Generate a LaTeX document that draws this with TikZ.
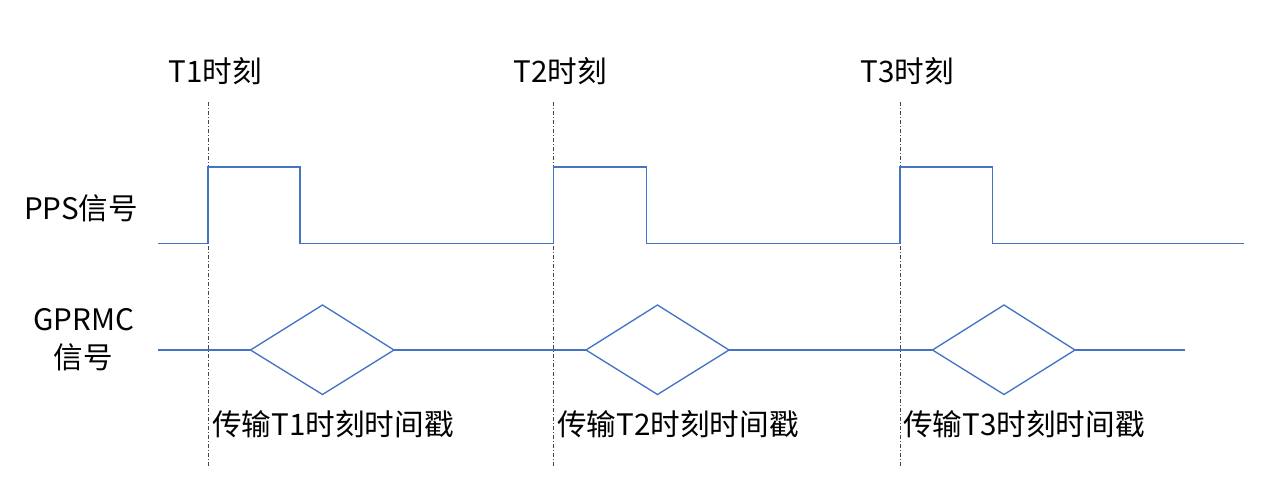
\documentclass[tikz,border=0pt]{standalone}
\usepackage{fontspec}
\setmainfont{Noto Sans CJK SC}
\begin{document}
\begin{tikzpicture}[x=0.75pt,y=-0.75pt,
  wave/.style={draw=waveblue,line width=1pt,line join=miter},
  marker/.style={draw=markgray,line width=0.75pt,dash pattern=on 3pt off 1.5pt on 0.75pt off 1.5pt},
  lbl/.style={inner sep=0pt,font=\fontsize{22.2pt}{27pt}\selectfont,text=black,align=center}]
\definecolor{waveblue}{RGB}{68,114,196}
\definecolor{markgray}{RGB}{70,70,70}
\useasboundingbox (0,0) rectangle (1280,503);
% time markers
\foreach \n/\x in {1/208,2/553.5,3/900}{
  \coordinate (mt\n) at (\x,102);
  \coordinate (mb\n) at (\x,468);
  \draw[marker] (mt\n) -- (mb\n);
  \node[lbl] (tl\n) at (\x+7,71) {T\n{}时刻};
}
% labels
\node[lbl] (pps) at (81,208) {PPS信号};
\node[lbl] (gprmc) at (84,320) {GPRMC};
\node[lbl] (gsig) at (83,357) {信号};
\node[lbl] (tx1) at (333,424) {传输T1时刻时间戳};
\node[lbl] (tx2) at (678,424) {传输T2时刻时间戳};
\node[lbl] (tx3) at (1024,424) {传输T3时刻时间戳};
% PPS waveform
\draw[wave] (158,243.5) -- (208,243.5) -- (208,167) -- (300,167) -- (300,243.5)
  -- (553.5,243.5) -- (553.5,167) -- (646.5,167) -- (646.5,243.5)
  -- (900,243.5) -- (900,167) -- (992.5,167) -- (992.5,243.5) -- (1244,243.5);
% GPRMC waveform
\draw[wave] (158,350) -- (250.5,350) (394,350) -- (586,350) (729,350) -- (932.5,350) (1075,350) -- (1185,350);
\foreach \l/\c/\r in {250.5/322.5/394, 586/657.5/729, 932.5/1004/1075}{
  \draw[wave] (\l,350) -- (\c,305) -- (\r,350) -- (\c,394.5) -- cycle;
}
\end{tikzpicture}
\end{document}
